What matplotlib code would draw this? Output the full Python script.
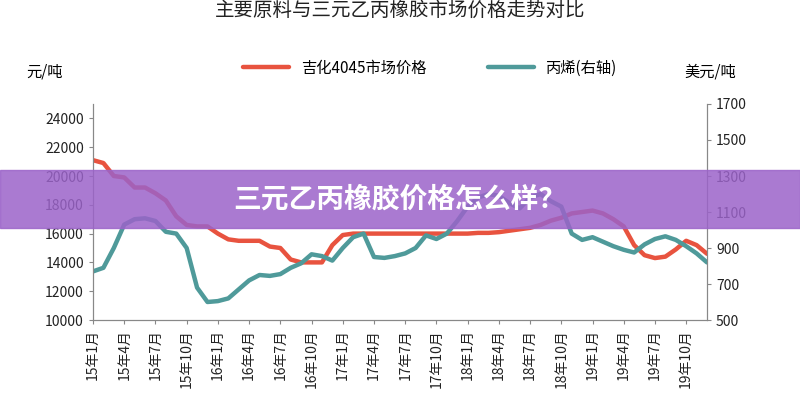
import matplotlib
matplotlib.use("Agg")
import matplotlib.pyplot as plt
from matplotlib.patches import Rectangle

plt.rcParams['font.family'] = ['Noto Sans CJK SC', 'DejaVu Sans']

red = [21100, 20900, 20000, 19900, 19200, 19200, 18800, 18300, 17200, 16600,
       16500, 16500, 16000, 15600, 15500, 15500, 15500, 15100, 15000, 14200,
       14000, 14000, 14000, 15200, 15900, 16000, 16000, 16000, 16000, 16000,
       16000, 16000, 16000, 16000, 16000, 16000, 16000, 16050, 16050, 16100,
       16200, 16300, 16400, 16600, 16900, 17100, 17400, 17500, 17600, 17400,
       17000, 16500, 15200, 14500, 14300, 14400, 14900, 15500, 15200, 14600]
teal = [770, 790, 900, 1030, 1060, 1065, 1050, 990, 980, 900,
        680, 600, 605, 620, 670, 720, 750, 745, 755, 790,
        815, 865, 855, 830, 900, 960, 980, 850, 845, 855,
        870, 900, 970, 950, 980, 1050, 1130, 1180, 1200, 1190,
        1150, 1120, 1180, 1200, 1160, 1130, 980, 945, 960, 935,
        910, 890, 875, 920, 950, 965, 945, 910, 870, 820]
tick_labels = ["15年1月", "15年4月", "15年7月", "15年10月", "16年1月", "16年4月", "16年7月",
               "16年10月", "17年1月", "17年4月", "17年7月", "17年10月", "18年1月", "18年4月",
               "18年7月", "18年10月", "19年1月", "19年4月", "19年7月", "19年10月"]

fig = plt.figure(figsize=(8, 4), dpi=100)
ax = fig.add_axes([93/800, 1-320/400, (707-93)/800, (320-104)/400])
ax2 = ax.twinx()
x = list(range(len(red)))
l1, = ax.plot(x, red, color='#e8533f', lw=3.2, solid_capstyle='round', label='吉化4045市场价格')
l2, = ax2.plot(x, teal, color='#4f9a9a', lw=3.2, solid_capstyle='round', label='丙烯(右轴)')
ax.set_xlim(0, 59)
ax.set_ylim(10000, 25000)
ax.set_yticks(range(10000, 24001, 2000))
ax2.set_ylim(500, 1700)
ax2.set_yticks(range(500, 1701, 200))
ax.set_xticks(range(0, 60, 3))
ax.set_xticklabels(tick_labels, rotation=90, fontsize=10)
ax.set_xticks(range(0, 60), minor=True)
for a in (ax, ax2):
    for s in a.spines.values():
        s.set_color('#888888')
    a.spines['top'].set_visible(False)
    a.tick_params(labelsize=10, colors='#222222', length=3, color='#888888')
ax.tick_params(axis='x', which='minor', length=0)

fig.text(0.5, 1-10/400, "主要原料与三元乙丙橡胶市场价格走势对比", ha='center', va='center', fontsize=14, color='#222222')
fig.text(45/800, 1-72/400, "元/吨", ha='center', va='center', fontsize=11)
fig.text(710/800, 1-72/400, "美元/吨", ha='center', va='center', fontsize=11)
fig.legend(handles=[l1, l2], loc='center', bbox_to_anchor=(430/800, 1-68/400), ncol=2,
           frameon=False, fontsize=11, handlelength=3, columnspacing=4)

fig.patches.append(Rectangle((0, 1-228/400), 1, 58/400, transform=fig.transFigure,
                             color='#9b63c9', alpha=0.85, zorder=10))
fig.text(0.5, 1-200/400, "三元乙丙橡胶价格怎么样？", ha='center', va='center', fontsize=20,
         color='white', fontweight='bold', zorder=11)
fig.savefig("out.png", dpi=100)
